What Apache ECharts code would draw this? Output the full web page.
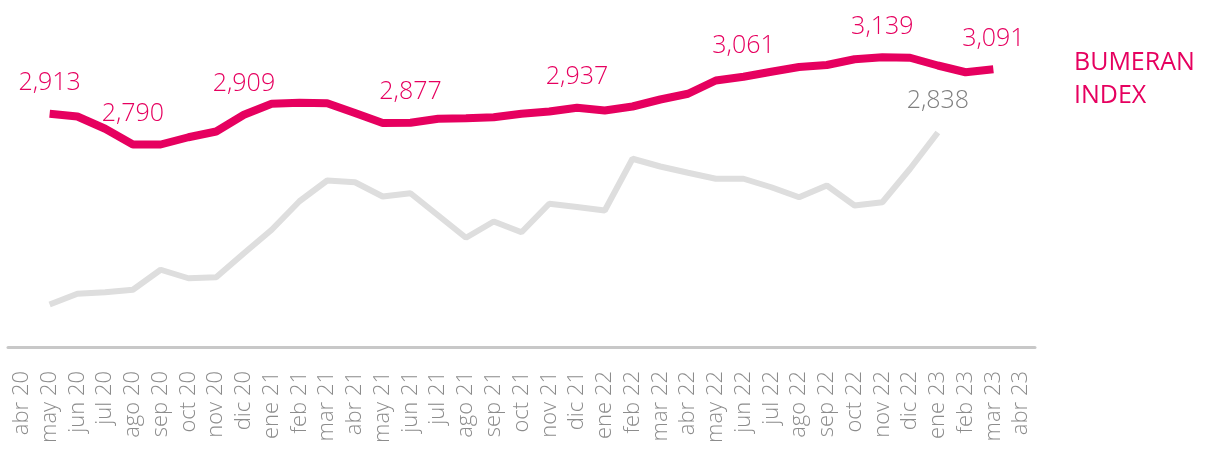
<!DOCTYPE html>
<html>
<head>
<meta charset="utf-8">
<script src="https://cdn.jsdelivr.net/npm/echarts@6/dist/echarts.min.js"></script>
<style>
  html, body { margin: 0; padding: 0; background: #fff; }
  #chart { width: 1205px; height: 458px; }
</style>
</head>
<body>
<div id="chart"></div>
<script>
// meses (abr 20 .. abr 23)
var months = ['abr 20','may 20','jun 20','jul 20','ago 20','sep 20','oct 20','nov 20','dic 20',
  'ene 21','feb 21','mar 21','abr 21','may 21','jun 21','jul 21','ago 21','sep 21','oct 21','nov 21','dic 21',
  'ene 22','feb 22','mar 22','abr 22','may 22','jun 22','jul 22','ago 22','sep 22','oct 22','nov 22','dic 22',
  'ene 23','feb 23','mar 23','abr 23'];

// Bumeran index (rosa)
var bumeran = [null, 2913, 2902, 2853, 2790, 2790, 2819, 2842, 2909,
  2953, 2957, 2955, 2916, 2876, 2877, 2893, 2895, 2899, 2913, 2922, 2937,
  2926, 2942, 2970, 2993, 3046, 3061, 3081, 3100, 3108, 3131, 3139, 3137,
  3106, 3079, 3091, null];

// serie gris
var gris = [null, 2150, 2193, 2199, 2209, 2289, 2255, 2259, 2355,
  2449, 2563, 2646, 2639, 2582, 2595, 2506, 2417, 2482, 2439, 2553, 2540,
  2526, 2733, 2702, 2677, 2653, 2653, 2619, 2579, 2626, 2546, 2559, 2693,
  2838, null, null, null];

// puntos con etiqueta
var bumeranLabels = [1, 4, 8, 14, 20, 26, 31, 35];
var grisLabels = [33];

var PINK = '#e6005f';
var FONT = 'Open Sans';

var withLabels = function(values, idx){
    return values.map(function(v, i){
        if (v === null) return null;
        return idx.indexOf(i) >= 0 ? {value: v, label: {show: true}} : v;
    });
};
var fmt = function(p){ return p.value.toLocaleString('en-US'); };

var myChart = echarts.init(document.getElementById('chart'));
var option = {
    animation: false,
    title: {
        text: 'BUMERAN\nINDEX',
        left: 1069, top: 41,
        textStyle: { color: PINK, fontFamily: FONT, fontSize: 25, fontWeight: 400, lineHeight: 33 }
    },
    grid: { left: 8, right: 170, top: 22, bottom: 111 },
    xAxis: {
        type: 'category',
        data: months,
        boundaryGap: true,
        axisLine: { lineStyle: { color: '#c8c8c8', width: 3 } },
        axisTick: { alignWithLabel: true, length: 6, lineStyle: { color: '#c8c8c8', width: 3 } },
        axisLabel: { rotate: 90, interval: 0, margin: 24, padding: [8, 0, 0, 0], color: '#8c8c8c', fontFamily: FONT, fontSize: 22, fontWeight: 300 }
    },
    yAxis: { type: 'value', min: 1980, max: 3280, show: false },
    series: [
        {
            name: 'gris', type: 'line', data: withLabels(gris, grisLabels),
            symbol: 'circle', symbolSize: 0, showAllSymbol: true,
            lineStyle: { color: '#dedede', width: 6 },
            itemStyle: { color: '#dedede' },
            label: { show: false, position: 'top', distance: 19, color: '#7f7f7f', fontFamily: FONT, fontSize: 25, fontWeight: 300, formatter: fmt },
            emphasis: { disabled: true }
        },
        {
            name: 'BUMERAN INDEX', type: 'line', data: withLabels(bumeran, bumeranLabels),
            symbol: 'circle', symbolSize: 0, showAllSymbol: true,
            lineStyle: { color: PINK, width: 8 },
            itemStyle: { color: PINK },
            label: { show: false, position: 'top', distance: 18, color: PINK, fontFamily: FONT, fontSize: 25, fontWeight: 300, formatter: fmt },
            emphasis: { disabled: true }
        }
    ]
};
myChart.setOption(option);
window.onresize = myChart.resize;
</script>
</body>
</html>
